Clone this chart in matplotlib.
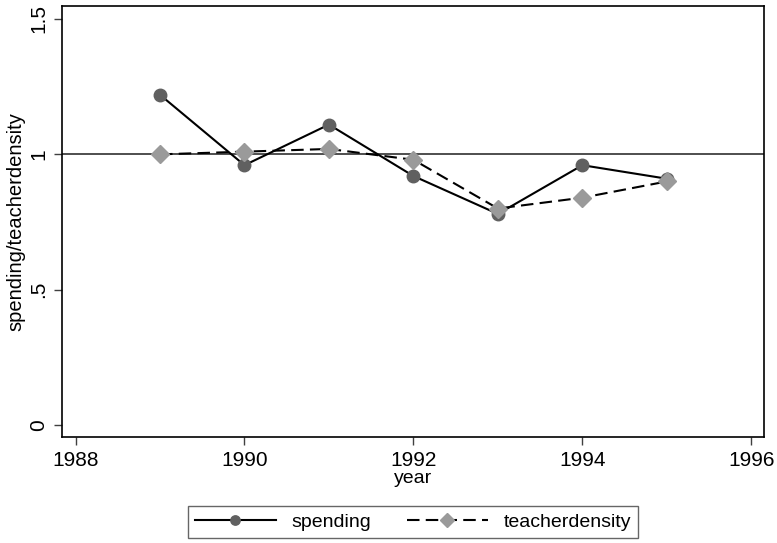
import numpy as np
import matplotlib
matplotlib.use('Agg')
import matplotlib.pyplot as plt

plt.rcParams['font.family'] = ['Liberation Sans', 'DejaVu Sans']

years = [1989, 1990, 1991, 1992, 1993, 1994, 1995]
spending = [1.22, 0.96, 1.11, 0.92, 0.78, 0.96, 0.91]
teacherdensity = [1.00, 1.01, 1.02, 0.98, 0.80, 0.84, 0.90]

xticks = [1988, 1990, 1992, 1994, 1996]
yticks = [0, 0.5, 1, 1.5]
yticklabels = ['0', '.5', '1', '1.5']

fig = plt.figure(figsize=(7.77, 5.43), dpi=100)
ax = fig.add_axes([62 / 777, 1 - 437 / 543, 702 / 777, 431 / 543])

# reference line at 1
ax.axhline(1, color='#404040', lw=1.3, zorder=1)

ax.plot(years, spending, color='black', lw=1.5, marker='o', ms=9,
        mfc='#606060', mec='#606060', label='spending', zorder=3)
ax.plot(years, teacherdensity, color='black', lw=1.5, ls=(0, (6, 3)),
        marker='D', ms=9, mfc='#9a9a9a', mec='#9a9a9a',
        label='teacherdensity', zorder=4)

ax.set_xlim(1987.84, 1996.15)
ax.set_ylim(-0.044, 1.548)
ax.set_xticks(xticks)
ax.set_yticks(yticks)
ax.set_yticklabels(yticklabels, rotation=90, va='center')
ax.tick_params(direction='out', length=6, width=1, color='#404040',
               labelsize=15, pad=4)
for s in ax.spines.values():
    s.set_color('black')
    s.set_linewidth(1.2)

ax.set_xlabel('year', fontsize=14, labelpad=0)
ax.set_ylabel('spending/teacherdensity', fontsize=14.5, labelpad=3)

leg = fig.legend(loc='center', bbox_to_anchor=(413 / 777, 1 - 522 / 543),
                 ncol=2, fontsize=14, frameon=True, fancybox=False,
                 edgecolor='#404040', handlelength=4.2, columnspacing=1.8,
                 borderpad=0.35, markerscale=0.75)
leg.get_frame().set_linewidth(1.0)

fig.savefig('out.png', dpi=100)
